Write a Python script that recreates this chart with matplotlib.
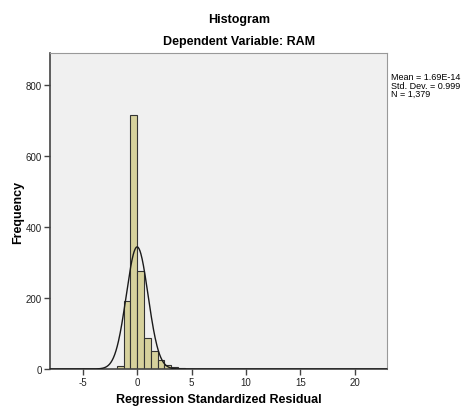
import numpy as np
import matplotlib.pyplot as plt

plt.rcParams['font.family'] = ['Liberation Sans', 'DejaVu Sans']
plt.rcParams['axes.unicode_minus'] = False

# bin left edges and counts
bin_width = 0.625
bin_left = [-1.875, -1.25, -0.625, 0.0, 0.625, 1.25, 1.875, 2.5, 3.125, 3.75, 4.375, 5.625, 15.0, 16.875]
counts = [9, 191, 716, 277, 87, 50, 24, 11, 7, 3, 1, 1, 1, 1]

mean = 1.69e-14
sd = 0.999
n = 1379

fig = plt.figure(figsize=(4.64, 4.10), dpi=100)
ax = fig.add_axes([0.108, 0.0976, 0.727, 0.770])
ax.set_facecolor('#f0f0f0')

ax.bar(bin_left, counts, width=bin_width, align='edge',
       color='#d6d19c', edgecolor='#333333', linewidth=0.8, zorder=2)

# normal curve
xx = np.linspace(-8, 23, 800)
yy = n * bin_width / (sd * np.sqrt(2 * np.pi)) * np.exp(-0.5 * ((xx - mean) / sd) ** 2)
ax.plot(xx, yy, color='#1a1a1a', lw=1.0, zorder=3)

ax.set_xlim(-8, 23)
ax.set_ylim(0, 890)
ax.set_xticks([-5, 0, 5, 10, 15, 20])
ax.set_yticks([0, 200, 400, 600, 800])
ax.tick_params(labelsize=7, length=4, width=1, color='#444444', labelcolor='#222222', pad=2)

for s in ['top', 'right']:
    ax.spines[s].set_color('#999999')
for s in ['left', 'bottom']:
    ax.spines[s].set_color('#444444')
    ax.spines[s].set_linewidth(1.2)

ax.set_xlabel('Regression Standardized Residual', fontsize=9, fontweight='bold', labelpad=4)
ax.set_ylabel('Frequency', fontsize=9, fontweight='bold', labelpad=1)

fig.text(0.515, 0.950, 'Histogram', ha='center', va='center', fontsize=9, fontweight='bold')
fig.text(0.515, 0.897, 'Dependent Variable: RAM', ha='center', va='center', fontsize=9, fontweight='bold')

fig.text(0.842, 0.822, 'Mean = 1.69E-14\nStd. Dev. = 0.999\nN = 1,379',
         ha='left', va='top', fontsize=6.5, linespacing=0.95)

fig.savefig('out.png', dpi=100)
